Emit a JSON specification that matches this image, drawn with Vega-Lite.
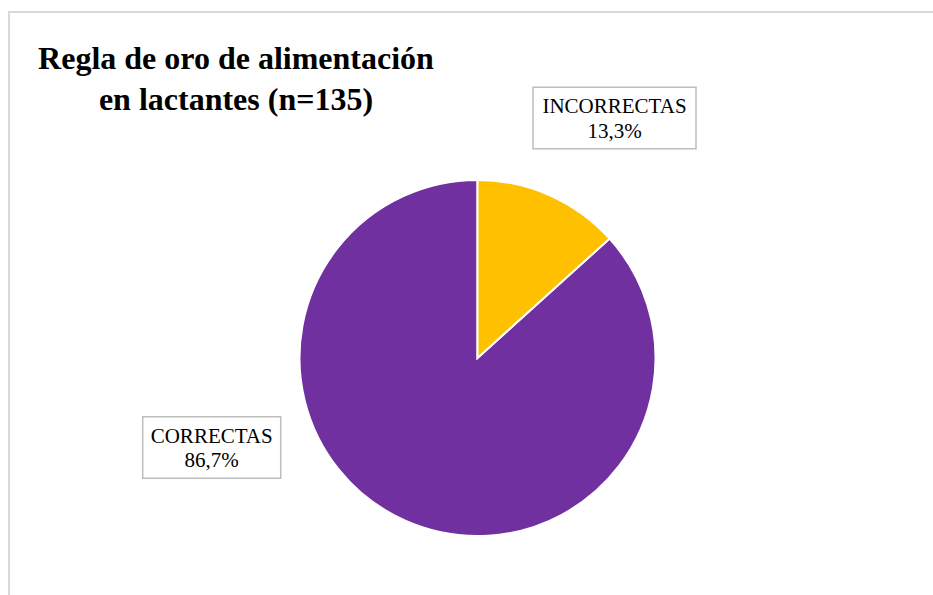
{
  "$schema": "https://vega.github.io/schema/vega-lite/v6.json",
  "width": 937,
  "height": 692,
  "autosize": {"type": "none"},
  "padding": {"left": 9, "top": 12, "right": -13, "bottom": -109},
  "background": "white",
  "config": {
    "view": {"stroke": "#d9d9d9", "strokeWidth": 2},
    "font": "Liberation Serif",
    "title": {"font": "Liberation Serif", "fontWeight": "bold", "fontSize": 32}
  },
  "title": {
    "text": ["Regla de oro de alimentación", "en lactantes (n=135)"],
    "font": "Liberation Serif",
    "fontSize": 32,
    "fontWeight": "bold",
    "color": "#000000",
    "anchor": "start",
    "frame": "group",
    "align": "center",
    "baseline": "top",
    "dx": 227,
    "offset": -105,
    "lineHeight": 41
  },
  "data": {
    "values": [
      {"categoria": "CORRECTAS", "valor": 86.7, "rotulo": "CORRECTAS\n86,7%"},
      {"categoria": "INCORRECTAS", "valor": 13.3, "rotulo": "INCORRECTAS\n13,3%"}
    ]
  },
  "layer": [
    {
      "mark": {"type": "arc", "outerRadius": 178, "stroke": "white", "strokeWidth": 2},
      "encoding": {
        "theta": {"field": "valor", "type": "quantitative", "stack": true},
        "order": {"field": "valor", "type": "quantitative", "sort": "ascending"},
        "color": {
          "field": "categoria",
          "type": "nominal",
          "scale": {"domain": ["INCORRECTAS", "CORRECTAS"], "range": ["#FFC000", "#7030A0"]},
          "legend": null
        }
      }
    },
    {
      "transform": [{"filter": "datum.categoria === 'INCORRECTAS'"}],
      "mark": {"type": "rect", "width": 163, "height": 61.5, "fill": "white", "stroke": "#bdbdbd", "strokeWidth": 1.5},
      "encoding": {
        "x": {"field": "categoria", "type": "nominal", "axis": null,
              "scale": {"type": "point", "domain": ["CORRECTAS", "INCORRECTAS"], "range": [202.7, 605.5], "padding": 0}},
        "y": {"field": "categoria", "type": "nominal", "axis": null,
              "scale": {"type": "point", "domain": ["INCORRECTAS", "CORRECTAS"], "range": [106, 435.5], "padding": 0}}
      }
    },
    {
      "transform": [{"filter": "datum.categoria === 'CORRECTAS'"}],
      "mark": {"type": "rect", "width": 138, "height": 61.5, "fill": "white", "stroke": "#bdbdbd", "strokeWidth": 1.5},
      "encoding": {
        "x": {"field": "categoria", "type": "nominal", "axis": null},
        "y": {"field": "categoria", "type": "nominal", "axis": null}
      }
    },
    {
      "mark": {"type": "text", "font": "Liberation Serif", "fontSize": 21, "color": "#000000",
               "align": "center", "baseline": "middle", "lineBreak": "\n", "lineHeight": 24.5, "dy": -10.7},
      "encoding": {
        "x": {"field": "categoria", "type": "nominal", "axis": null},
        "y": {"field": "categoria", "type": "nominal", "axis": null},
        "text": {"field": "rotulo", "type": "nominal"}
      }
    }
  ]
}
